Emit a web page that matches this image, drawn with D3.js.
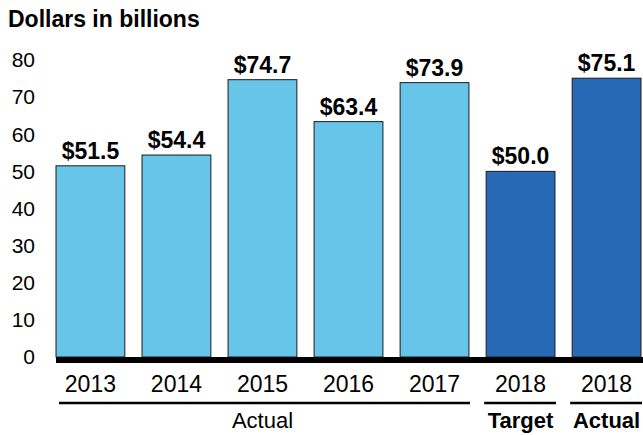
<!DOCTYPE html>
<html>
<head>
<meta charset="utf-8">
<script src="https://cdn.jsdelivr.net/npm/d3@7"></script>
<style>
  body { margin: 0; background: #fff; }
  svg { display: block; font-family: "Liberation Sans", Arial, sans-serif; }
</style>
</head>
<body>
<div id="wrapper"></div>
<script>
const width = 643,
    height = 435;

// chart data
const keys = ["2013", "2014", "2015", "2016", "2017", "2018T", "2018A"];
const yearLabels = ["2013", "2014", "2015", "2016", "2017", "2018", "2018"];
const values = [51.5, 54.4, 74.7, 63.4, 73.9, 50.0, 75.1];
const barKinds = ["actual", "actual", "actual", "actual", "actual", "target", "actual18"];
const yTicks = [0, 10, 20, 30, 40, 50, 60, 70, 80];
const groups = [
    {label: "Actual", from: "2013", to: "2017", bold: false},
    {label: "Target", from: "2018T", to: "2018T", bold: true},
    {label: "Actual", from: "2018A", to: "2018A", bold: true}
];

const colorOf = k => k === "actual" ? "#67C5EA" : "#2769B5";

const x = d3.scaleBand().domain(keys).range([56, 641]).paddingInner(0.2).paddingOuter(0);
const y = d3.scaleLinear().domain([0, 80]).range([357, 60]);

const svg = d3.select("#wrapper").append("svg")
    .attr("width", width)
    .attr("height", height);

svg.append("text")
    .attr("x", 8).attr("y", 27)
    .attr("font-size", 23).attr("font-weight", "bold")
    .text("Dollars in billions");

// y tick labels
svg.selectAll(".ytick")
    .data(yTicks)
    .enter().append("text")
    .attr("class", "ytick")
    .attr("x", 35)
    .attr("y", d => y(d))
    .attr("dy", "0.35em")
    .attr("text-anchor", "end")
    .attr("font-size", 21)
    .text(d => d);

const data = keys.map((k, i) => ({key: k, value: values[i], kind: barKinds[i], year: yearLabels[i]}));

svg.selectAll(".bar")
    .data(data)
    .enter().append("rect")
    .attr("class", "bar")
    .attr("x", d => x(d.key))
    .attr("y", d => y(d.value))
    .attr("width", x.bandwidth())
    .attr("height", d => y(0) - y(d.value))
    .attr("fill", d => colorOf(d.kind))
    .attr("stroke", "#1a1a1a")
    .attr("stroke-width", 1);

svg.selectAll(".val")
    .data(data)
    .enter().append("text")
    .attr("class", "val")
    .attr("x", d => x(d.key) + x.bandwidth() / 2)
    .attr("y", d => y(d.value) - 7)
    .attr("text-anchor", "middle")
    .attr("font-size", 23).attr("font-weight", "bold")
    .text(d => "$" + d.value.toFixed(1));

// baseline
svg.append("line")
    .attr("x1", 56).attr("x2", 643)
    .attr("y1", y(0) + 3).attr("y2", y(0) + 3)
    .attr("stroke", "#000").attr("stroke-width", 6);

svg.selectAll(".year")
    .data(data)
    .enter().append("text")
    .attr("class", "year")
    .attr("x", d => x(d.key) + x.bandwidth() / 2)
    .attr("y", 392)
    .attr("text-anchor", "middle")
    .attr("font-size", 23)
    .text(d => d.year);

// group underlines and labels
const g = svg.selectAll(".group")
    .data(groups)
    .enter().append("g")
    .attr("class", "group");

g.append("line")
    .attr("x1", d => x(d.from) + (d.from === "2013" ? 3 : -2))
    .attr("x2", d => Math.min(643, x(d.to) + x.bandwidth() + 1))
    .attr("y1", 403).attr("y2", 403)
    .attr("stroke", "#000").attr("stroke-width", 2.5);

g.append("text")
    .attr("x", d => (x(d.from) + x(d.to) + x.bandwidth()) / 2)
    .attr("y", 428)
    .attr("text-anchor", "middle")
    .attr("font-size", 22)
    .attr("font-weight", d => d.bold ? "bold" : "normal")
    .text(d => d.label);
</script>
</body>
</html>
